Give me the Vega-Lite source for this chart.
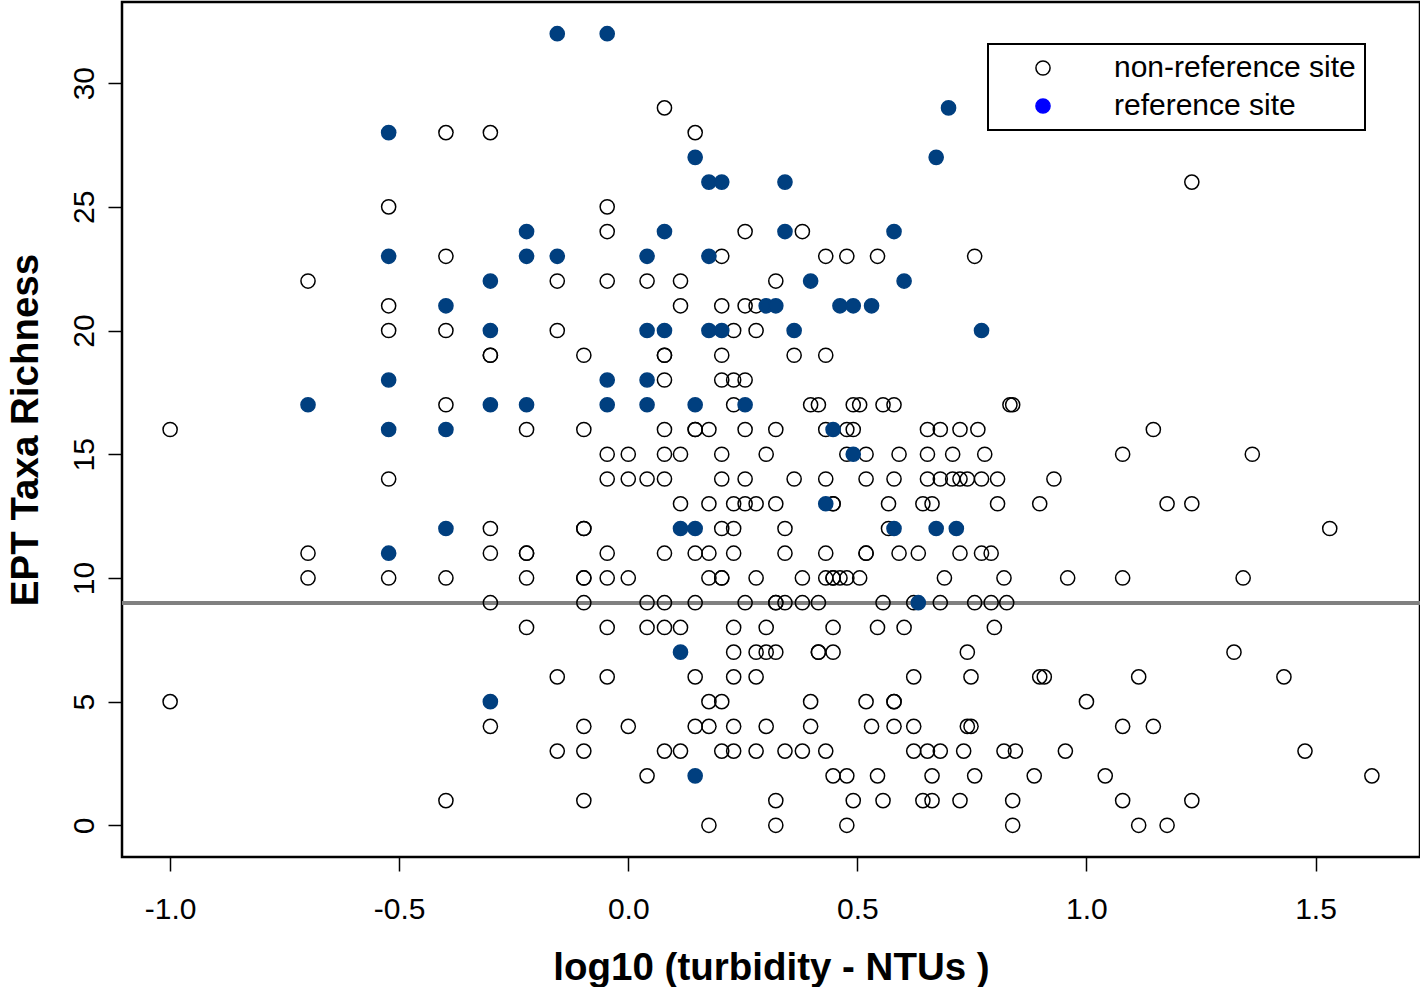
{
  "$schema": "https://vega.github.io/schema/vega-lite/v6.json",
  "width": 1298,
  "height": 855,
  "autosize": {"type": "none"},
  "padding": {"left": 122, "top": 2, "right": 0, "bottom": 130},
  "background": "white",
  "config": {
    "font": "Liberation Sans",
    "view": {"stroke": "black", "strokeWidth": 2.5},
    "axis": {
      "grid": false, "domain": false, "tickColor": "black", "tickSize": 14, "tickWidth": 1.5,
      "labelColor": "black", "labelFont": "Liberation Sans", "labelFontSize": 30,
      "titleFont": "Liberation Sans", "titleFontSize": 38.5, "titleFontWeight": "bold", "titleColor": "black"
    },
    "legend": {
      "orient": "none", "legendX": 866, "legendY": 42,
      "strokeColor": "black", "strokeWidth": 2, "padding": 9, "rowPadding": 8,
      "symbolType": "circle", "symbolSize": 200, "symbolStrokeWidth": 1.5, "symbolOpacity": 1,
      "symbolOffset": 31, "labelOffset": 56,
      "labelFont": "Liberation Sans", "labelFontSize": 30, "labelColor": "black", "labelLimit": 600
    }
  },
  "data": {"values": [
    {"turb":0.079,"ept":29,"site":"non-reference site"},
    {"turb":-0.398,"ept":28,"site":"non-reference site"},{"turb":-0.301,"ept":28,"site":"non-reference site"},{"turb":0.146,"ept":28,"site":"non-reference site"},
    {"turb":1.230,"ept":26,"site":"non-reference site"},
    {"turb":-0.523,"ept":25,"site":"non-reference site"},{"turb":-0.046,"ept":25,"site":"non-reference site"},
    {"turb":-0.046,"ept":24,"site":"non-reference site"},{"turb":0.255,"ept":24,"site":"non-reference site"},{"turb":0.380,"ept":24,"site":"non-reference site"},
    {"turb":-0.398,"ept":23,"site":"non-reference site"},{"turb":0.204,"ept":23,"site":"non-reference site"},{"turb":0.431,"ept":23,"site":"non-reference site"},{"turb":0.477,"ept":23,"site":"non-reference site"},{"turb":0.544,"ept":23,"site":"non-reference site"},{"turb":0.756,"ept":23,"site":"non-reference site"},
    {"turb":-0.699,"ept":22,"site":"non-reference site"},{"turb":-0.155,"ept":22,"site":"non-reference site"},{"turb":-0.046,"ept":22,"site":"non-reference site"},{"turb":0.041,"ept":22,"site":"non-reference site"},{"turb":0.114,"ept":22,"site":"non-reference site"},{"turb":0.322,"ept":22,"site":"non-reference site"},
    {"turb":-0.523,"ept":21,"site":"non-reference site"},{"turb":0.114,"ept":21,"site":"non-reference site"},{"turb":0.204,"ept":21,"site":"non-reference site"},{"turb":0.255,"ept":21,"site":"non-reference site"},{"turb":0.279,"ept":21,"site":"non-reference site"},
    {"turb":-0.523,"ept":20,"site":"non-reference site"},{"turb":-0.398,"ept":20,"site":"non-reference site"},{"turb":-0.155,"ept":20,"site":"non-reference site"},{"turb":0.230,"ept":20,"site":"non-reference site"},{"turb":0.279,"ept":20,"site":"non-reference site"},
    {"turb":-0.301,"ept":19,"site":"non-reference site"},{"turb":-0.301,"ept":19,"site":"non-reference site"},{"turb":-0.097,"ept":19,"site":"non-reference site"},{"turb":0.079,"ept":19,"site":"non-reference site"},{"turb":0.079,"ept":19,"site":"non-reference site"},{"turb":0.204,"ept":19,"site":"non-reference site"},{"turb":0.362,"ept":19,"site":"non-reference site"},{"turb":0.431,"ept":19,"site":"non-reference site"},
    {"turb":0.079,"ept":18,"site":"non-reference site"},{"turb":0.204,"ept":18,"site":"non-reference site"},{"turb":0.230,"ept":18,"site":"non-reference site"},{"turb":0.255,"ept":18,"site":"non-reference site"},
    {"turb":-0.398,"ept":17,"site":"non-reference site"},{"turb":0.230,"ept":17,"site":"non-reference site"},{"turb":0.398,"ept":17,"site":"non-reference site"},{"turb":0.415,"ept":17,"site":"non-reference site"},{"turb":0.491,"ept":17,"site":"non-reference site"},{"turb":0.505,"ept":17,"site":"non-reference site"},{"turb":0.556,"ept":17,"site":"non-reference site"},{"turb":0.580,"ept":17,"site":"non-reference site"},{"turb":0.833,"ept":17,"site":"non-reference site"},{"turb":0.839,"ept":17,"site":"non-reference site"},
    {"turb":-1,"ept":16,"site":"non-reference site"},{"turb":-0.222,"ept":16,"site":"non-reference site"},{"turb":-0.097,"ept":16,"site":"non-reference site"},{"turb":0.079,"ept":16,"site":"non-reference site"},{"turb":0.146,"ept":16,"site":"non-reference site"},{"turb":0.146,"ept":16,"site":"non-reference site"},{"turb":0.176,"ept":16,"site":"non-reference site"},{"turb":0.255,"ept":16,"site":"non-reference site"},{"turb":0.322,"ept":16,"site":"non-reference site"},{"turb":0.431,"ept":16,"site":"non-reference site"},{"turb":0.477,"ept":16,"site":"non-reference site"},{"turb":0.491,"ept":16,"site":"non-reference site"},{"turb":0.653,"ept":16,"site":"non-reference site"},{"turb":0.681,"ept":16,"site":"non-reference site"},{"turb":0.724,"ept":16,"site":"non-reference site"},{"turb":0.763,"ept":16,"site":"non-reference site"},{"turb":1.146,"ept":16,"site":"non-reference site"},
    {"turb":-0.046,"ept":15,"site":"non-reference site"},{"turb":0,"ept":15,"site":"non-reference site"},{"turb":0.079,"ept":15,"site":"non-reference site"},{"turb":0.114,"ept":15,"site":"non-reference site"},{"turb":0.204,"ept":15,"site":"non-reference site"},{"turb":0.301,"ept":15,"site":"non-reference site"},{"turb":0.477,"ept":15,"site":"non-reference site"},{"turb":0.519,"ept":15,"site":"non-reference site"},{"turb":0.591,"ept":15,"site":"non-reference site"},{"turb":0.653,"ept":15,"site":"non-reference site"},{"turb":0.708,"ept":15,"site":"non-reference site"},{"turb":0.778,"ept":15,"site":"non-reference site"},{"turb":1.079,"ept":15,"site":"non-reference site"},{"turb":1.362,"ept":15,"site":"non-reference site"},
    {"turb":-0.523,"ept":14,"site":"non-reference site"},{"turb":-0.046,"ept":14,"site":"non-reference site"},{"turb":0,"ept":14,"site":"non-reference site"},{"turb":0.041,"ept":14,"site":"non-reference site"},{"turb":0.079,"ept":14,"site":"non-reference site"},{"turb":0.204,"ept":14,"site":"non-reference site"},{"turb":0.255,"ept":14,"site":"non-reference site"},{"turb":0.362,"ept":14,"site":"non-reference site"},{"turb":0.431,"ept":14,"site":"non-reference site"},{"turb":0.519,"ept":14,"site":"non-reference site"},{"turb":0.580,"ept":14,"site":"non-reference site"},{"turb":0.653,"ept":14,"site":"non-reference site"},{"turb":0.681,"ept":14,"site":"non-reference site"},{"turb":0.708,"ept":14,"site":"non-reference site"},{"turb":0.724,"ept":14,"site":"non-reference site"},{"turb":0.740,"ept":14,"site":"non-reference site"},{"turb":0.771,"ept":14,"site":"non-reference site"},{"turb":0.806,"ept":14,"site":"non-reference site"},{"turb":0.929,"ept":14,"site":"non-reference site"},
    {"turb":0.114,"ept":13,"site":"non-reference site"},{"turb":0.176,"ept":13,"site":"non-reference site"},{"turb":0.230,"ept":13,"site":"non-reference site"},{"turb":0.255,"ept":13,"site":"non-reference site"},{"turb":0.279,"ept":13,"site":"non-reference site"},{"turb":0.322,"ept":13,"site":"non-reference site"},{"turb":0.447,"ept":13,"site":"non-reference site"},{"turb":0.447,"ept":13,"site":"non-reference site"},{"turb":0.568,"ept":13,"site":"non-reference site"},{"turb":0.643,"ept":13,"site":"non-reference site"},{"turb":0.663,"ept":13,"site":"non-reference site"},{"turb":0.806,"ept":13,"site":"non-reference site"},{"turb":0.898,"ept":13,"site":"non-reference site"},{"turb":1.176,"ept":13,"site":"non-reference site"},{"turb":1.230,"ept":13,"site":"non-reference site"},
    {"turb":-0.301,"ept":12,"site":"non-reference site"},{"turb":-0.097,"ept":12,"site":"non-reference site"},{"turb":-0.097,"ept":12,"site":"non-reference site"},{"turb":0.204,"ept":12,"site":"non-reference site"},{"turb":0.230,"ept":12,"site":"non-reference site"},{"turb":0.342,"ept":12,"site":"non-reference site"},{"turb":0.568,"ept":12,"site":"non-reference site"},{"turb":1.531,"ept":12,"site":"non-reference site"},
    {"turb":-0.699,"ept":11,"site":"non-reference site"},{"turb":-0.301,"ept":11,"site":"non-reference site"},{"turb":-0.222,"ept":11,"site":"non-reference site"},{"turb":-0.222,"ept":11,"site":"non-reference site"},{"turb":-0.046,"ept":11,"site":"non-reference site"},{"turb":0.079,"ept":11,"site":"non-reference site"},{"turb":0.146,"ept":11,"site":"non-reference site"},{"turb":0.176,"ept":11,"site":"non-reference site"},{"turb":0.230,"ept":11,"site":"non-reference site"},{"turb":0.342,"ept":11,"site":"non-reference site"},{"turb":0.431,"ept":11,"site":"non-reference site"},{"turb":0.519,"ept":11,"site":"non-reference site"},{"turb":0.519,"ept":11,"site":"non-reference site"},{"turb":0.591,"ept":11,"site":"non-reference site"},{"turb":0.633,"ept":11,"site":"non-reference site"},{"turb":0.724,"ept":11,"site":"non-reference site"},{"turb":0.771,"ept":11,"site":"non-reference site"},{"turb":0.792,"ept":11,"site":"non-reference site"},
    {"turb":-0.699,"ept":10,"site":"non-reference site"},{"turb":-0.523,"ept":10,"site":"non-reference site"},{"turb":-0.398,"ept":10,"site":"non-reference site"},{"turb":-0.222,"ept":10,"site":"non-reference site"},{"turb":-0.097,"ept":10,"site":"non-reference site"},{"turb":-0.097,"ept":10,"site":"non-reference site"},{"turb":-0.046,"ept":10,"site":"non-reference site"},{"turb":0,"ept":10,"site":"non-reference site"},{"turb":0.176,"ept":10,"site":"non-reference site"},{"turb":0.204,"ept":10,"site":"non-reference site"},{"turb":0.204,"ept":10,"site":"non-reference site"},{"turb":0.279,"ept":10,"site":"non-reference site"},{"turb":0.380,"ept":10,"site":"non-reference site"},{"turb":0.431,"ept":10,"site":"non-reference site"},{"turb":0.447,"ept":10,"site":"non-reference site"},{"turb":0.447,"ept":10,"site":"non-reference site"},{"turb":0.462,"ept":10,"site":"non-reference site"},{"turb":0.477,"ept":10,"site":"non-reference site"},{"turb":0.505,"ept":10,"site":"non-reference site"},{"turb":0.690,"ept":10,"site":"non-reference site"},{"turb":0.820,"ept":10,"site":"non-reference site"},{"turb":0.959,"ept":10,"site":"non-reference site"},{"turb":1.079,"ept":10,"site":"non-reference site"},{"turb":1.342,"ept":10,"site":"non-reference site"},
    {"turb":-0.301,"ept":9,"site":"non-reference site"},{"turb":-0.097,"ept":9,"site":"non-reference site"},{"turb":0.041,"ept":9,"site":"non-reference site"},{"turb":0.079,"ept":9,"site":"non-reference site"},{"turb":0.146,"ept":9,"site":"non-reference site"},{"turb":0.255,"ept":9,"site":"non-reference site"},{"turb":0.322,"ept":9,"site":"non-reference site"},{"turb":0.322,"ept":9,"site":"non-reference site"},{"turb":0.342,"ept":9,"site":"non-reference site"},{"turb":0.380,"ept":9,"site":"non-reference site"},{"turb":0.415,"ept":9,"site":"non-reference site"},{"turb":0.556,"ept":9,"site":"non-reference site"},{"turb":0.623,"ept":9,"site":"non-reference site"},{"turb":0.681,"ept":9,"site":"non-reference site"},{"turb":0.756,"ept":9,"site":"non-reference site"},{"turb":0.792,"ept":9,"site":"non-reference site"},{"turb":0.826,"ept":9,"site":"non-reference site"},
    {"turb":-0.222,"ept":8,"site":"non-reference site"},{"turb":-0.046,"ept":8,"site":"non-reference site"},{"turb":0.041,"ept":8,"site":"non-reference site"},{"turb":0.079,"ept":8,"site":"non-reference site"},{"turb":0.114,"ept":8,"site":"non-reference site"},{"turb":0.230,"ept":8,"site":"non-reference site"},{"turb":0.301,"ept":8,"site":"non-reference site"},{"turb":0.447,"ept":8,"site":"non-reference site"},{"turb":0.544,"ept":8,"site":"non-reference site"},{"turb":0.602,"ept":8,"site":"non-reference site"},{"turb":0.799,"ept":8,"site":"non-reference site"},
    {"turb":0.230,"ept":7,"site":"non-reference site"},{"turb":0.279,"ept":7,"site":"non-reference site"},{"turb":0.301,"ept":7,"site":"non-reference site"},{"turb":0.322,"ept":7,"site":"non-reference site"},{"turb":0.415,"ept":7,"site":"non-reference site"},{"turb":0.415,"ept":7,"site":"non-reference site"},{"turb":0.447,"ept":7,"site":"non-reference site"},{"turb":0.740,"ept":7,"site":"non-reference site"},{"turb":1.322,"ept":7,"site":"non-reference site"},
    {"turb":-0.155,"ept":6,"site":"non-reference site"},{"turb":-0.046,"ept":6,"site":"non-reference site"},{"turb":0.146,"ept":6,"site":"non-reference site"},{"turb":0.230,"ept":6,"site":"non-reference site"},{"turb":0.279,"ept":6,"site":"non-reference site"},{"turb":0.623,"ept":6,"site":"non-reference site"},{"turb":0.748,"ept":6,"site":"non-reference site"},{"turb":0.898,"ept":6,"site":"non-reference site"},{"turb":0.908,"ept":6,"site":"non-reference site"},{"turb":1.114,"ept":6,"site":"non-reference site"},{"turb":1.431,"ept":6,"site":"non-reference site"},
    {"turb":-1,"ept":5,"site":"non-reference site"},{"turb":0.176,"ept":5,"site":"non-reference site"},{"turb":0.204,"ept":5,"site":"non-reference site"},{"turb":0.398,"ept":5,"site":"non-reference site"},{"turb":0.519,"ept":5,"site":"non-reference site"},{"turb":0.580,"ept":5,"site":"non-reference site"},{"turb":0.580,"ept":5,"site":"non-reference site"},{"turb":1,"ept":5,"site":"non-reference site"},
    {"turb":-0.301,"ept":4,"site":"non-reference site"},{"turb":-0.097,"ept":4,"site":"non-reference site"},{"turb":0,"ept":4,"site":"non-reference site"},{"turb":0.146,"ept":4,"site":"non-reference site"},{"turb":0.176,"ept":4,"site":"non-reference site"},{"turb":0.230,"ept":4,"site":"non-reference site"},{"turb":0.301,"ept":4,"site":"non-reference site"},{"turb":0.398,"ept":4,"site":"non-reference site"},{"turb":0.531,"ept":4,"site":"non-reference site"},{"turb":0.580,"ept":4,"site":"non-reference site"},{"turb":0.623,"ept":4,"site":"non-reference site"},{"turb":0.740,"ept":4,"site":"non-reference site"},{"turb":0.748,"ept":4,"site":"non-reference site"},{"turb":1.079,"ept":4,"site":"non-reference site"},{"turb":1.146,"ept":4,"site":"non-reference site"},
    {"turb":-0.155,"ept":3,"site":"non-reference site"},{"turb":-0.097,"ept":3,"site":"non-reference site"},{"turb":0.079,"ept":3,"site":"non-reference site"},{"turb":0.114,"ept":3,"site":"non-reference site"},{"turb":0.204,"ept":3,"site":"non-reference site"},{"turb":0.230,"ept":3,"site":"non-reference site"},{"turb":0.279,"ept":3,"site":"non-reference site"},{"turb":0.342,"ept":3,"site":"non-reference site"},{"turb":0.380,"ept":3,"site":"non-reference site"},{"turb":0.431,"ept":3,"site":"non-reference site"},{"turb":0.623,"ept":3,"site":"non-reference site"},{"turb":0.653,"ept":3,"site":"non-reference site"},{"turb":0.681,"ept":3,"site":"non-reference site"},{"turb":0.732,"ept":3,"site":"non-reference site"},{"turb":0.820,"ept":3,"site":"non-reference site"},{"turb":0.845,"ept":3,"site":"non-reference site"},{"turb":0.954,"ept":3,"site":"non-reference site"},{"turb":1.477,"ept":3,"site":"non-reference site"},
    {"turb":0.041,"ept":2,"site":"non-reference site"},{"turb":0.447,"ept":2,"site":"non-reference site"},{"turb":0.477,"ept":2,"site":"non-reference site"},{"turb":0.544,"ept":2,"site":"non-reference site"},{"turb":0.663,"ept":2,"site":"non-reference site"},{"turb":0.756,"ept":2,"site":"non-reference site"},{"turb":0.886,"ept":2,"site":"non-reference site"},{"turb":1.041,"ept":2,"site":"non-reference site"},{"turb":1.623,"ept":2,"site":"non-reference site"},
    {"turb":-0.398,"ept":1,"site":"non-reference site"},{"turb":-0.097,"ept":1,"site":"non-reference site"},{"turb":0.322,"ept":1,"site":"non-reference site"},{"turb":0.491,"ept":1,"site":"non-reference site"},{"turb":0.556,"ept":1,"site":"non-reference site"},{"turb":0.643,"ept":1,"site":"non-reference site"},{"turb":0.663,"ept":1,"site":"non-reference site"},{"turb":0.724,"ept":1,"site":"non-reference site"},{"turb":0.839,"ept":1,"site":"non-reference site"},{"turb":1.079,"ept":1,"site":"non-reference site"},{"turb":1.230,"ept":1,"site":"non-reference site"},
    {"turb":0.176,"ept":0,"site":"non-reference site"},{"turb":0.322,"ept":0,"site":"non-reference site"},{"turb":0.477,"ept":0,"site":"non-reference site"},{"turb":0.839,"ept":0,"site":"non-reference site"},{"turb":1.114,"ept":0,"site":"non-reference site"},{"turb":1.176,"ept":0,"site":"non-reference site"},
    {"turb":-0.155,"ept":32,"site":"reference site"},{"turb":-0.046,"ept":32,"site":"reference site"},
    {"turb":0.699,"ept":29,"site":"reference site"},
    {"turb":-0.523,"ept":28,"site":"reference site"},
    {"turb":0.146,"ept":27,"site":"reference site"},{"turb":0.672,"ept":27,"site":"reference site"},
    {"turb":0.176,"ept":26,"site":"reference site"},{"turb":0.204,"ept":26,"site":"reference site"},{"turb":0.342,"ept":26,"site":"reference site"},
    {"turb":-0.222,"ept":24,"site":"reference site"},{"turb":0.079,"ept":24,"site":"reference site"},{"turb":0.342,"ept":24,"site":"reference site"},{"turb":0.580,"ept":24,"site":"reference site"},
    {"turb":-0.523,"ept":23,"site":"reference site"},{"turb":-0.222,"ept":23,"site":"reference site"},{"turb":-0.155,"ept":23,"site":"reference site"},{"turb":0.041,"ept":23,"site":"reference site"},{"turb":0.176,"ept":23,"site":"reference site"},
    {"turb":-0.301,"ept":22,"site":"reference site"},{"turb":0.398,"ept":22,"site":"reference site"},{"turb":0.602,"ept":22,"site":"reference site"},
    {"turb":-0.398,"ept":21,"site":"reference site"},{"turb":0.301,"ept":21,"site":"reference site"},{"turb":0.322,"ept":21,"site":"reference site"},{"turb":0.462,"ept":21,"site":"reference site"},{"turb":0.491,"ept":21,"site":"reference site"},{"turb":0.531,"ept":21,"site":"reference site"},
    {"turb":-0.301,"ept":20,"site":"reference site"},{"turb":0.041,"ept":20,"site":"reference site"},{"turb":0.079,"ept":20,"site":"reference site"},{"turb":0.176,"ept":20,"site":"reference site"},{"turb":0.204,"ept":20,"site":"reference site"},{"turb":0.362,"ept":20,"site":"reference site"},{"turb":0.771,"ept":20,"site":"reference site"},
    {"turb":-0.523,"ept":18,"site":"reference site"},{"turb":-0.046,"ept":18,"site":"reference site"},{"turb":0.041,"ept":18,"site":"reference site"},
    {"turb":-0.699,"ept":17,"site":"reference site"},{"turb":-0.301,"ept":17,"site":"reference site"},{"turb":-0.222,"ept":17,"site":"reference site"},{"turb":-0.046,"ept":17,"site":"reference site"},{"turb":0.041,"ept":17,"site":"reference site"},{"turb":0.146,"ept":17,"site":"reference site"},{"turb":0.255,"ept":17,"site":"reference site"},
    {"turb":-0.523,"ept":16,"site":"reference site"},{"turb":-0.398,"ept":16,"site":"reference site"},{"turb":0.447,"ept":16,"site":"reference site"},
    {"turb":0.491,"ept":15,"site":"reference site"},
    {"turb":0.431,"ept":13,"site":"reference site"},
    {"turb":-0.398,"ept":12,"site":"reference site"},{"turb":0.114,"ept":12,"site":"reference site"},{"turb":0.146,"ept":12,"site":"reference site"},{"turb":0.580,"ept":12,"site":"reference site"},{"turb":0.672,"ept":12,"site":"reference site"},{"turb":0.716,"ept":12,"site":"reference site"},
    {"turb":-0.523,"ept":11,"site":"reference site"},
    {"turb":0.633,"ept":9,"site":"reference site"},
    {"turb":0.114,"ept":7,"site":"reference site"},
    {"turb":-0.301,"ept":5,"site":"reference site"},
    {"turb":0.146,"ept":2,"site":"reference site"}
  ]},
  "layer": [
    {
      "mark": {"type": "rule", "color": "#808080", "strokeWidth": 3},
      "encoding": {"y": {"datum": 9, "type": "quantitative"}}
    },
    {
      "mark": {"type": "point", "shape": "circle", "size": 200, "strokeWidth": 1.5, "filled": false, "opacity": 1},
      "encoding": {
        "x": {
          "field": "turb", "type": "quantitative",
          "scale": {"domain": [-1.105, 1.728], "nice": false, "zero": false},
          "axis": {
            "values": [-1, -0.5, 0, 0.5, 1, 1.5],
            "labelExpr": "(datum.value < 0 ? '-' : '') + format(abs(datum.value), '.1f')",
            "labelPadding": 23, "labelFlush": false, "labelOverlap": false,
            "title": "log10 (turbidity - NTUs )", "titleY": 122, "titleBaseline": "alphabetic"
          }
        },
        "y": {
          "field": "ept", "type": "quantitative",
          "scale": {"domain": [-1.28, 33.28], "nice": false, "zero": false},
          "axis": {
            "values": [0, 5, 10, 15, 20, 25, 30],
            "labelAngle": -90, "labelAlign": "center", "labelBaseline": "alphabetic", "labelPadding": 15,
            "labelFlush": false, "labelOverlap": false,
            "title": "EPT Taxa Richness", "titleAngle": -90, "titleAlign": "center", "titleBaseline": "alphabetic",
            "titleX": -85, "titleY": 427.5
          }
        },
        "fill": {
          "field": "site", "type": "nominal",
          "scale": {"domain": ["non-reference site", "reference site"], "range": ["transparent", "#003F7F"]},
          "legend": null
        },
        "stroke": {
          "field": "site", "type": "nominal",
          "scale": {"domain": ["non-reference site", "reference site"], "range": ["black", "#003F7F"]},
          "legend": null
        }
      }
    },
    {
      "mark": {"type": "point", "shape": "circle", "size": 200, "strokeWidth": 1.5, "filled": false, "opacity": 0},
      "encoding": {
        "x": {"field": "turb", "type": "quantitative"},
        "y": {"field": "ept", "type": "quantitative"},
        "fill": {
          "field": "site", "type": "nominal",
          "scale": {"domain": ["non-reference site", "reference site"], "range": ["transparent", "#0000FF"]},
          "legend": {"title": null}
        },
        "stroke": {
          "field": "site", "type": "nominal",
          "scale": {"domain": ["non-reference site", "reference site"], "range": ["black", "#0000FF"]},
          "legend": {"title": null}
        }
      }
    }
  ],
  "resolve": {
    "scale": {"fill": "independent", "stroke": "independent"},
    "legend": {"fill": "independent", "stroke": "independent"}
  }
}
